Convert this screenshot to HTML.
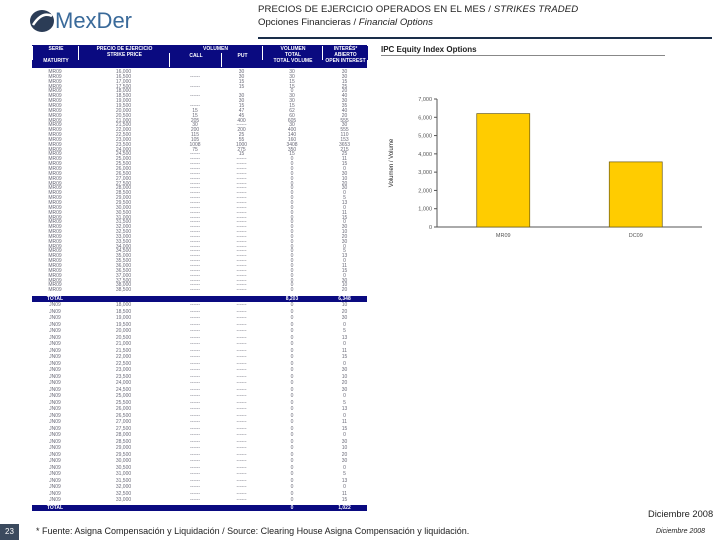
<!DOCTYPE html>
<html><head><meta charset="utf-8">
<style>
body{margin:0;width:720px;height:540px;background:#fff;position:relative;overflow:hidden;font-family:"Liberation Sans",sans-serif;}
.abs{position:absolute;}
.cell{position:absolute;font-size:5px;color:#6a6a78;text-align:center;line-height:5px;white-space:nowrap;}
.hd{position:absolute;background:#0a0a80;color:#fff;font-size:5px;font-weight:bold;text-align:center;line-height:6px;}
</style></head><body>
<div class="abs" style="left:28px;top:6px;width:110px;height:30px;">
 <svg width="30" height="28" style="position:absolute;left:0;top:1px"><ellipse cx="14" cy="14" rx="12" ry="11" fill="#2b3c56"/><path d="M5 18 Q14 4 24 9" stroke="#fff" stroke-width="2.5" fill="none"/></svg>
 <span style="position:absolute;left:27px;top:2px;font-size:22px;color:#3a6a9a;">MexDer</span>
</div>
<div class="abs" style="left:258px;top:4px;font-size:9.6px;letter-spacing:0.1px;color:#222;">PRECIOS DE EJERCICIO OPERADOS EN EL MES / <i>STRIKES TRADED</i></div>
<div class="abs" style="left:258px;top:17px;font-size:9.6px;color:#222;">Opciones Financieras / <i>Financial Options</i></div>
<div class="abs" style="left:258px;top:37px;width:454px;height:2px;background:#1a2e4a;"></div>

<div id="tbl"></div>

<div class="abs" style="left:381px;top:45px;font-size:8px;font-weight:bold;color:#222;">IPC Equity Index Options</div>
<div class="abs" style="left:381px;top:55px;width:284px;height:1px;background:#888;"></div>
<svg id="chart" class="abs" style="left:0;top:0" width="720" height="540"></svg>

<div class="abs" style="left:648px;top:509px;font-size:9.3px;color:#222;">Diciembre 2008</div>
<div class="abs" style="left:0;top:524px;width:19px;height:16px;background:#3b4a5e;color:#fff;font-size:8px;text-align:center;line-height:16px;">23</div>
<div class="abs" style="left:36px;top:526px;font-size:9px;color:#222;">* Fuente: Asigna Compensación y Liquidación / Source: Clearing House Asigna Compensación y liquidación.</div>
<div class="abs" style="left:656px;top:528px;font-size:7px;font-style:italic;color:#222;">Diciembre 2008</div>

<script>
const categories=["MR09","DC09"];
const volumes=[6200,3560];
const yTicks=[0,1000,2000,3000,4000,5000,6000,7000];
const yTickLabels=["0","1,000","2,000","3,000","4,000","5,000","6,000","7,000"];
const NS="http://www.w3.org/2000/svg";
const svg=document.getElementById('chart');
const x0=437,x1=702,yb=227,yt=99,yMax=7000;
const ys=v=>yb-(v/yMax)*(yb-yt);
const band=(x1-x0)/categories.length;
const xc=i=>x0+band*(i+0.5);
function mk(t,a){const e=document.createElementNS(NS,t);for(const k in a)e.setAttribute(k,a[k]);svg.appendChild(e);return e;}
let ax=mk('line',{x1:x0,y1:yt,x2:x0,y2:yb,stroke:'#555','stroke-width':1});


let bx=mk('line',{x1:x0,y1:yb,x2:x1,y2:yb,stroke:'#555','stroke-width':1});


yTicks.forEach((v,i)=>{
 let tk=mk('line',{x1:x0-3,y1:ys(v),x2:x0,y2:ys(v),stroke:'#555'});
 
 
 let t=mk('text',{x:x0-5,y:ys(v)+2,'font-size':5.5,'text-anchor':'end',fill:'#555','font-family':'Liberation Sans'});
 t.textContent=yTickLabels[i];
 
 
});
categories.forEach((c,i)=>{
 const w=53;
 let r=mk('rect',{x:xc(i)-w/2,y:ys(volumes[i]),width:w,height:yb-ys(volumes[i]),fill:'#ffcc00',stroke:'#6b5a10','stroke-width':0.7});
 
 
 let t=mk('text',{x:xc(i),y:yb+10,'font-size':5.5,'text-anchor':'middle',fill:'#555','font-family':'Liberation Sans'});
 t.textContent=c;
 
 
});
let yl=mk('text',{x:393,y:163,'font-size':6,'text-anchor':'middle',fill:'#222','font-family':'Liberation Sans',transform:'rotate(-90 393 163)'});
yl.textContent='Volumen / Volume';



const tbl=document.getElementById('tbl');
function div(cls,st,txt){const d=document.createElement('div');d.className=cls;d.setAttribute('style',st);d.textContent=txt;tbl.appendChild(d);return d;}
const colsX=[32,78,169,221,262,322,367];
const hdrs=[["SERIE\n\nMATURITY"],["PRECIO DE EJERCICIO\nSTRIKE PRICE"],["CALL"],["PUT"],["VOLUMEN\nTOTAL\nTOTAL VOLUME"],["INTERÉS*\nABIERTO\nOPEN INTEREST"]];
let h=div('hd','left:32px;top:45px;width:335px;height:23px;','');


hdrs.forEach((t,i)=>{let d=div('hd',`left:${colsX[i]}px;top:${i==2||i==3?53:46}px;width:${colsX[i+1]-colsX[i]}px;height:14px;white-space:pre;border-left:1px solid #fff;`,t[0]);
 
 });
let vh=div('hd','left:169px;top:46px;width:93px;height:6px;','VOLUMEN');


const callA=["","------","","------","","------","","------","15","15","205","30","200","115","105","1008","75","------"];
const putA=["30","30","15","15","","30","30","15","47","45","400","------","200","25","55","1000","275","15"];
const intA=["30","30","15","25","20","40","30","35","40","20","555","30","555","110","153","3653","215","25"];
function rows(series,n,top,rh,startStrike){
 for(let i=0;i<n;i++){
  const y=top+i*rh;const s=startStrike+i*500;
  const strike=(Math.floor(s/1000))+","+(s%1000===0?"000":"500");
  const c=callA[i]!==undefined?callA[i]:"------";
  const p=putA[i]!==undefined?putA[i]:"------";
  const tot=(i<18 && series==="MR09")?(intA[i]=== "3653"?"3408":(parseInt(p)||0)+(parseInt(c)||0)+""):"0";
  const oi=intA[i]!==undefined&&series==="MR09"?intA[i]:["10","20","30","0","5","13","0","11","15","0","30"][i%11];
  const vals=[series,strike,series==="MR09"&&i<18?c:"------",series==="MR09"&&i<18?p:"------",tot,oi];
  vals.forEach((v,j)=>{const d=div('cell',`left:${colsX[j]}px;top:${y}px;width:${colsX[j+1]-colsX[j]}px;`,v);
   
   });
 }
}
rows("MR09",46,70,4.85,16000);
let t1=div('hd','left:32px;top:296px;width:335px;height:6px;text-align:left;','');


[["TOTAL",32,46],["8,203",262,60],["6,348",322,45]].forEach(a=>{let d=div('hd',`left:${a[1]}px;top:296px;width:${a[2]}px;height:6px;`,a[0]);
 
 });
rows("JN09",31,303,6.5,18000);
let t2=div('hd','left:32px;top:505px;width:335px;height:6px;','');


[["TOTAL",32,46],["0",262,60],["1,022",322,45]].forEach(a=>{let d=div('hd',`left:${a[1]}px;top:505px;width:${a[2]}px;height:6px;`,a[0]);
 
 });
</script>
</body></html>
